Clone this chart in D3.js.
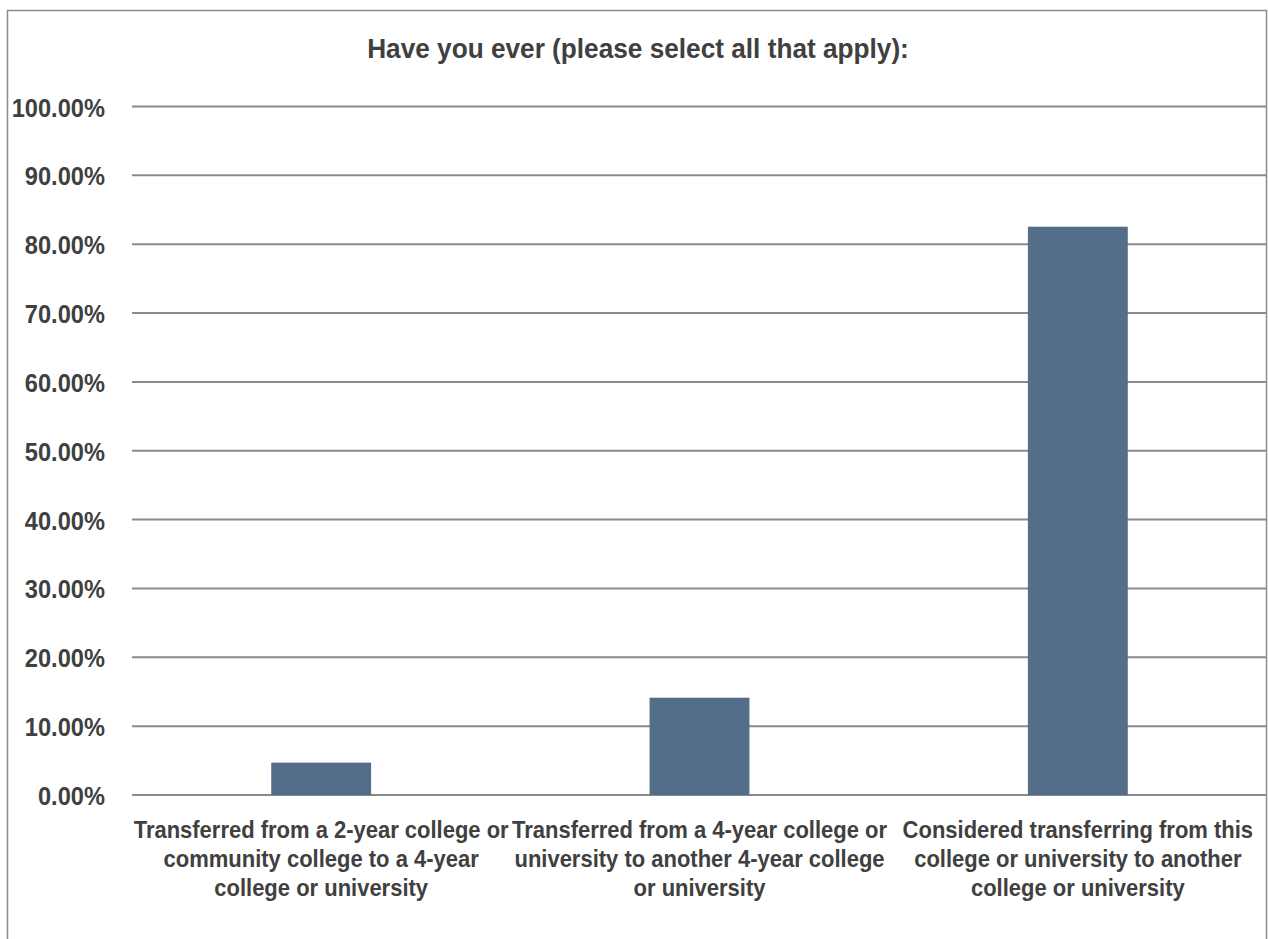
<!DOCTYPE html>
<html><head><meta charset="utf-8">
<script src="https://cdn.jsdelivr.net/npm/d3@7/dist/d3.min.js"></script>
<style>
html,body{margin:0;padding:0;background:#fff;}
svg text{font-family:"Liberation Sans",Arial,sans-serif;font-weight:bold;fill:#404040;}
</style></head>
<body>
<svg id="chart" width="1268" height="939"></svg>
<script>
const title = "Have you ever (please select all that apply):";
const categories = [
  ["Transferred from a 2-year college or", "community college to a 4-year", "college or university"],
  ["Transferred from a 4-year college or", "university to another 4-year college", "or university"],
  ["Considered transferring from this", "college or university to another", "college or university"]
];
const values = [0.047, 0.1413, 0.8254];
const tickValues = [0,0.1,0.2,0.3,0.4,0.5,0.6,0.7,0.8,0.9,1.0];

(function(){
const svg = d3.select("#chart");
const mL = 132, mR = 1267, mT = 106.5, mB = 795;

svg.append("rect").attr("x",7.5).attr("y",10.5).attr("width",1259).attr("height",940)
  .attr("fill","#fff").attr("stroke","#8c8c8c").attr("stroke-width",1.5);

const x = d3.scaleBand().domain(d3.range(categories.length)).range([mL,mR]).paddingInner(0.736).paddingOuter(0.368);
const y = d3.scaleLinear().domain([0,1]).range([mB,mT]);

svg.append("g").selectAll("line").data(tickValues).join("line")
  .attr("x1",mL).attr("x2",mR)
  .attr("y1",d=>y(d)).attr("y2",d=>y(d))
  .attr("stroke","#8a8a8a").attr("stroke-width",2);

const yAxis = d3.axisLeft(y).tickValues(tickValues).tickFormat(d3.format(".2%")).tickSize(0).tickPadding(0);
const yg = svg.append("g").attr("transform",`translate(105,0)`).call(yAxis);
yg.select(".domain").remove();
yg.attr("font-family",null).attr("font-size",null);
yg.selectAll("text").attr("font-size",25.7).attr("fill","#404040").attr("dy",null)
  .attr("y",9.5).attr("x",0).attr("transform","scale(0.92,1)");

svg.append("g").selectAll("rect").data(values).join("rect")
  .attr("x",(d,i)=>x(i)).attr("width",x.bandwidth())
  .attr("y",d=>y(d)).attr("height",d=>mB-y(d))
  .attr("fill","#546d88");

const cg = svg.append("g");
categories.forEach((lines,i)=>{
  const cx = x(i)+x.bandwidth()/2;
  const t = cg.append("text").attr("text-anchor","middle").attr("font-size",24.7)
    .attr("transform",`translate(${cx},0) scale(0.89,1)`);
  lines.forEach((ln,j)=>{
    t.append("tspan").attr("x",0).attr("y",838.5+j*28.7).text(ln);
  });
});

svg.append("text").attr("text-anchor","middle").attr("font-size",28)
  .attr("transform","translate(638,58.3) scale(0.936,1)").text(title);
})();
</script>
</body></html>
